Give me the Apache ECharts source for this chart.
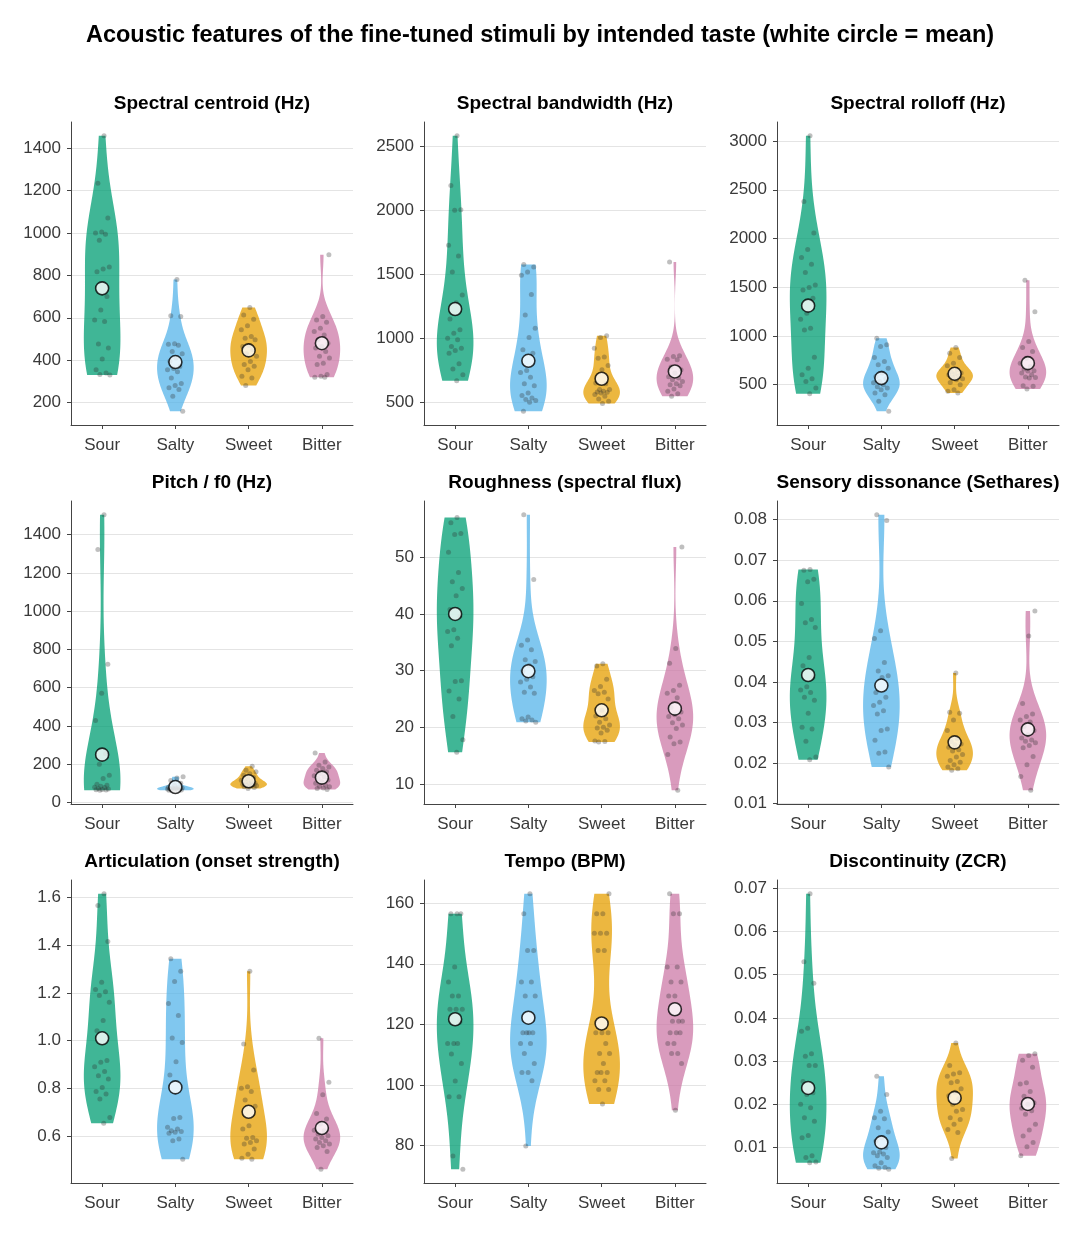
<!DOCTYPE html>
<html>
<head>
<meta charset="utf-8">
<title>Acoustic features by intended taste</title>
<script src="https://cdn.jsdelivr.net/npm/echarts@6/dist/echarts.min.js"></script>
<style>
  html, body { margin: 0; padding: 0; background: #fff; }
  #chart { width: 1080px; height: 1234px; }
</style>
</head>
<body>
<div id="chart"></div>
<script>
// tastes, in plotting order
const tastes = ['Sour', 'Salty', 'Sweet', 'Bitter'];
const tasteColors = ['rgba(0,158,115,0.75)', 'rgba(86,180,233,0.75)', 'rgba(230,159,0,0.75)', 'rgba(204,121,167,0.75)'];

// per-stimulus values, one list per taste: [Sour, Salty, Sweet, Bitter]
const centroid = [
  [1459, 1235, 1071, 1005, 1000, 994, 966, 840, 830, 817, 700, 637, 590, 582, 476, 457, 405, 355, 339, 332, 330],
  [781, 610, 606, 478, 475, 470, 441, 430, 410, 395, 370, 361, 355, 345, 316, 290, 280, 270, 262, 230, 159],
  [648, 613, 593, 562, 543, 512, 504, 496, 469, 465, 449, 430, 418, 394, 379, 371, 355, 324, 316, 280],
  [897, 606, 590, 579, 551, 535, 519, 496, 480, 465, 457, 441, 418, 410, 386, 379, 332, 324, 319, 319]
];
const bandwidth = [
  [2583, 2194, 2004, 2000, 1727, 1644, 1519, 1338, 1278, 1151, 1066, 1040, 1001, 988, 936, 923, 905, 884, 801, 760, 715, 669],
  [1577, 1558, 1519, 1493, 1343, 1182, 1078, 1006, 910, 884, 749, 733, 695, 645, 630, 573, 552, 534, 521, 513, 500, 430],
  [1019, 1006, 923, 853, 845, 788, 754, 650, 645, 600, 599, 586, 580, 578, 573, 560, 547, 526, 508, 490],
  [1597, 863, 858, 837, 832, 775, 754, 728, 700, 690, 676, 663, 645, 637, 630, 604, 586, 567, 547]
];
const rolloff = [
  [3054, 2380, 2057, 1886, 1804, 1736, 1651, 1522, 1498, 1471, 1386, 1232, 1171, 1079, 1062, 783, 670, 602, 561, 534, 466, 408],
  [977, 909, 892, 779, 738, 704, 670, 619, 585, 560, 534, 520, 500, 480, 466, 449, 415, 398, 330, 228],
  [881, 824, 779, 721, 694, 653, 630, 619, 610, 602, 590, 575, 560, 551, 524, 500, 449, 432, 415],
  [1573, 1249, 943, 881, 841, 772, 721, 687, 660, 643, 640, 619, 602, 580, 575, 568, 490, 483, 456]
];
const pitch = [
  [1504, 1322, 723, 571, 429, 255, 200, 142, 125, 95, 90, 85, 80, 78, 73, 70, 68, 66, 65, 64],
  [135, 128, 115, 100, 90, 80, 78, 76, 75, 74, 72, 72, 70, 70, 68, 66, 65, 65, 64],
  [189, 168, 160, 150, 142, 130, 125, 116, 110, 108, 100, 99, 95, 92, 90, 88, 85, 82, 78, 73],
  [258, 212, 194, 185, 177, 168, 160, 151, 140, 134, 125, 118, 108, 100, 90, 85, 82, 75, 73, 68]
];
const roughness = [
  [57.0, 56.1, 54.2, 54.0, 50.9, 47.3, 45.7, 44.5, 43.2, 40.8, 39.6, 37.2, 36.9, 35.7, 34.4, 28.2, 28.1, 26.4, 25.0, 21.9, 17.8, 15.6],
  [57.5, 46.1, 35.4, 34.5, 33.7, 31.9, 31.6, 30.9, 30.0, 28.9, 28.5, 28.0, 27.1, 26.2, 26.0, 21.8, 21.5, 21.3, 21.1, 20.9],
  [31.2, 30.8, 28.5, 27.2, 26.5, 26.2, 25.9, 25.0, 23.0, 22.0, 21.5, 20.9, 20.4, 20.0, 19.9, 19.5, 19.0, 17.6, 17.5, 17.4],
  [51.8, 33.9, 31.3, 27.4, 26.5, 26.0, 25.2, 23.5, 22.7, 22.2, 21.9, 21.5, 20.8, 20.4, 19.8, 18.3, 17.4, 17.1, 15.2, 8.9]
];
const dissonance = [
  [0.0677, 0.0675, 0.0653, 0.0647, 0.0593, 0.0554, 0.0546, 0.0534, 0.0460, 0.0440, 0.0411, 0.0388, 0.0380, 0.0374, 0.0362, 0.0355, 0.0323, 0.0288, 0.0284, 0.0254, 0.0215, 0.0208],
  [0.0812, 0.0798, 0.0526, 0.0507, 0.0448, 0.0427, 0.0415, 0.0411, 0.0374, 0.0362, 0.0350, 0.0342, 0.0329, 0.0321, 0.0284, 0.0280, 0.0256, 0.0227, 0.0224, 0.0190],
  [0.0422, 0.0325, 0.0323, 0.0306, 0.0280, 0.0260, 0.0253, 0.0247, 0.0245, 0.0239, 0.0233, 0.0230, 0.0221, 0.0215, 0.0206, 0.0202, 0.0196, 0.0190, 0.0186, 0.0182],
  [0.0575, 0.0513, 0.0347, 0.0321, 0.0315, 0.0306, 0.0301, 0.0290, 0.0280, 0.0270, 0.0262, 0.0257, 0.0254, 0.0250, 0.0243, 0.0238, 0.0216, 0.0196, 0.0167, 0.0133]
];
const articulation = [
  [1.614, 1.565, 1.415, 1.244, 1.214, 1.205, 1.189, 1.161, 1.084, 1.042, 0.917, 0.910, 0.891, 0.871, 0.854, 0.840, 0.805, 0.788, 0.777, 0.756, 0.679, 0.655],
  [1.342, 1.290, 1.247, 1.156, 1.105, 1.011, 0.993, 0.912, 0.857, 0.679, 0.675, 0.638, 0.631, 0.624, 0.621, 0.617, 0.613, 0.589, 0.582, 0.505],
  [1.290, 0.986, 0.878, 0.808, 0.801, 0.788, 0.752, 0.726, 0.645, 0.631, 0.596, 0.592, 0.582, 0.575, 0.568, 0.547, 0.526, 0.509, 0.505],
  [1.010, 0.826, 0.774, 0.696, 0.673, 0.652, 0.626, 0.624, 0.610, 0.603, 0.596, 0.589, 0.582, 0.575, 0.568, 0.561, 0.554, 0.537, 0.463]
];
const tempo = [
  [156.5, 156.5, 156.5, 138.9, 134.0, 129.4, 129.4, 125.0, 125.0, 125.0, 120.8, 113.7, 113.7, 113.7, 110.2, 107.1, 101.3, 96.1, 96.1, 76.6, 72.2],
  [163.1, 156.5, 144.4, 144.4, 134.0, 134.0, 129.4, 129.4, 117.2, 117.2, 117.2, 117.2, 113.7, 113.7, 110.4, 107.1, 104.1, 104.1, 101.4, 79.9],
  [163.1, 156.5, 156.5, 150.1, 150.1, 150.1, 144.4, 144.4, 117.2, 117.2, 117.2, 113.7, 110.4, 110.4, 107.1, 104.1, 104.1, 104.1, 101.4, 101.4, 98.5, 98.5, 93.7],
  [163.1, 156.5, 156.5, 138.9, 138.9, 134.0, 134.0, 129.4, 129.4, 121.0, 121.0, 121.0, 117.2, 117.2, 117.2, 113.7, 113.7, 110.4, 110.4, 107.1, 91.7]
];
const zcr = [
  [0.0687, 0.0530, 0.0480, 0.0376, 0.0369, 0.0317, 0.0311, 0.0290, 0.0290, 0.0253, 0.0227, 0.0223, 0.0200, 0.0192, 0.0169, 0.0161, 0.0128, 0.0123, 0.0081, 0.0077, 0.0067, 0.0065],
  [0.0265, 0.0223, 0.0184, 0.0169, 0.0167, 0.0146, 0.0136, 0.0123, 0.0115, 0.0100, 0.0090, 0.0088, 0.0085, 0.0081, 0.0077, 0.0065, 0.0058, 0.0054, 0.0052, 0.0050],
  [0.0342, 0.0290, 0.0273, 0.0270, 0.0265, 0.0253, 0.0250, 0.0236, 0.0228, 0.0220, 0.0213, 0.0200, 0.0188, 0.0184, 0.0169, 0.0165, 0.0154, 0.0142, 0.0135, 0.0075],
  [0.0317, 0.0313, 0.0302, 0.0286, 0.0250, 0.0247, 0.0230, 0.0219, 0.0204, 0.0200, 0.0191, 0.0185, 0.0177, 0.0154, 0.0141, 0.0127, 0.0112, 0.0102, 0.0081]
];

// group means (white circles)
const centroidMean = [739, 391, 446, 480];
const bandwidthMean = [1229, 824, 684, 741];
const rolloffMean = [1311, 568, 612, 721];
const pitchMean = [250, 81, 111, 130];
const roughnessMean = [40.0, 29.9, 23.0, 23.3];
const dissonanceMean = [0.0417, 0.0391, 0.0251, 0.0283];
const articulationMean = [1.010, 0.805, 0.703, 0.635];
const tempoMean = [121.7, 122.2, 120.3, 125.0];
const zcrMean = [0.0238, 0.0112, 0.0215, 0.0201];

// y tick labels per panel
const centroidTicks = ['200', '400', '600', '800', '1000', '1200', '1400'];
const bandwidthTicks = ['500', '1000', '1500', '2000', '2500'];
const rolloffTicks = ['500', '1000', '1500', '2000', '2500', '3000'];
const pitchTicks = ['0', '200', '400', '600', '800', '1000', '1200', '1400'];
const roughnessTicks = ['10', '20', '30', '40', '50'];
const dissonanceTicks = ['0.01', '0.02', '0.03', '0.04', '0.05', '0.06', '0.07', '0.08'];
const articulationTicks = ['0.6', '0.8', '1.0', '1.2', '1.4', '1.6'];
const tempoTicks = ['80', '100', '120', '140', '160'];
const zcrTicks = ['0.01', '0.02', '0.03', '0.04', '0.05', '0.06', '0.07'];

const panelTitles = [
  'Spectral centroid (Hz)', 'Spectral bandwidth (Hz)', 'Spectral rolloff (Hz)',
  'Pitch / f0 (Hz)', 'Roughness (spectral flux)', 'Sensory dissonance (Sethares)',
  'Articulation (onset strength)', 'Tempo (BPM)', 'Discontinuity (ZCR)'
];
const panelData = [centroid, bandwidth, rolloff, pitch, roughness, dissonance, articulation, tempo, zcr];
const panelMeans = [centroidMean, bandwidthMean, rolloffMean, pitchMean, roughnessMean, dissonanceMean, articulationMean, tempoMean, zcrMean];
const panelTicks = [centroidTicks, bandwidthTicks, rolloffTicks, pitchTicks, roughnessTicks, dissonanceTicks, articulationTicks, tempoTicks, zcrTicks];

const FONT = '"Liberation Sans", Arial, Helvetica, sans-serif';
const colLeft = [71, 424, 777];
const rowTop = [122, 501, 880];
const gridW = 282, gridH = 303;
const violinWidth = 0.5;

// gaussian kde, scott bandwidth, evaluated between min and max (like matplotlib violinplot)
function violinOutline(vals) {
  const n = vals.length;
  const m = vals.reduce((a, b) => a + b, 0) / n;
  const sd = Math.sqrt(vals.reduce((a, b) => a + (b - m) * (b - m), 0) / (n - 1));
  const bw = sd * Math.pow(n, -0.2);
  const lo = Math.min(...vals), hi = Math.max(...vals);
  const out = [];
  let maxD = 0;
  for (let j = 0; j < 100; j++) {
    const y = lo + (hi - lo) * j / 99;
    let d = 0;
    vals.forEach(v => { const z = (y - v) / bw; d += Math.exp(-0.5 * z * z); });
    out.push([y, d]);
    if (d > maxD) maxD = d;
  }
  return out.map(p => [p[0], p[1] / maxD * violinWidth / 2]);
}

function fmtTick(ticks) {
  return function (v) {
    let best = ticks[0], bd = Infinity;
    ticks.forEach(t => { const d = Math.abs(Number(t) - v); if (d < bd) { bd = d; best = t; } });
    return best;
  };
}

const grids = [], xAxes = [], yAxes = [], series = [], titles = [];

titles.push({
  text: 'Acoustic features of the fine-tuned stimuli by intended taste (white circle = mean)',
  left: 540, top: 24, textAlign: 'center', padding: 0,
  textStyle: { fontFamily: FONT, fontSize: 23.5, fontWeight: 'bold', color: '#000' }
});

panelData.forEach((groups, p) => {
  const col = p % 3, row = Math.floor(p / 3);
  const all = [].concat(...groups);
  const lo = Math.min(...all), hi = Math.max(...all);
  const pad = (hi - lo) * 0.05;
  const tickNums = panelTicks[p].map(Number);

  grids.push({ left: colLeft[col], top: rowTop[row], width: gridW, height: gridH });
  titles.push({
    text: panelTitles[p],
    left: colLeft[col] + gridW / 2, top: rowTop[row] - 28, textAlign: 'center', padding: 0,
    textStyle: { fontFamily: FONT, fontSize: 19, fontWeight: 'bold', color: '#000' }
  });

  xAxes.push({
    gridIndex: p, type: 'value', min: -0.425, max: 3.425,
    axisLine: { show: true, onZero: false, lineStyle: { color: '#444', width: 1 } },
    axisTick: { show: true, length: 4, lineStyle: { color: '#444' }, customValues: [0, 1, 2, 3] },
    axisLabel: {
      customValues: [0, 1, 2, 3], formatter: v => tastes[Math.round(v)],
      fontFamily: FONT, fontSize: 17, color: '#3a3a3a', margin: 12
    },
    splitLine: { show: false }
  });
  yAxes.push({
    gridIndex: p, type: 'value', min: lo - pad, max: hi + pad,
    axisLine: { show: true, onZero: false, lineStyle: { color: '#444', width: 1 } },
    axisTick: { show: true, length: 4, lineStyle: { color: '#444' }, customValues: tickNums },
    axisLabel: {
      customValues: tickNums, formatter: fmtTick(panelTicks[p]),
      fontFamily: FONT, fontSize: 17, color: '#3a3a3a', margin: 10
    },
    splitLine: { show: true, lineStyle: { color: '#e4e4e4', width: 1 } }
  });

  const outlines = groups.map(violinOutline);
  series.push({
    type: 'custom', xAxisIndex: p, yAxisIndex: p, z: 1, silent: true,
    data: groups.map((g, i) => [i, Math.min(...g), Math.max(...g)]),
    encode: { x: 0, y: [1, 2] },
    renderItem: function (params, api) {
      const i = params.dataIndex;
      const ol = outlines[i];
      const left = ol.map(q => api.coord([i - q[1], q[0]]));
      const right = ol.slice().reverse().map(q => api.coord([i + q[1], q[0]]));
      return {
        type: 'polygon',
        shape: { points: left.concat(right) },
        style: { fill: tasteColors[i], stroke: null }
      };
    }
  });

  // jittered stimuli (fixed golden-ratio offsets)
  const pts = [];
  let k = 0;
  groups.forEach((g, i) => {
    g.forEach(v => {
      k++;
      const jit = ((k * 0.6180339887) % 1 - 0.5) * 0.22;
      pts.push([i + jit, v]);
    });
  });
  series.push({
    type: 'scatter', xAxisIndex: p, yAxisIndex: p, z: 3, silent: true,
    symbolSize: 5, data: pts,
    itemStyle: { color: 'rgba(45,45,45,0.38)' }
  });

  series.push({
    type: 'scatter', xAxisIndex: p, yAxisIndex: p, z: 5, silent: true,
    symbolSize: 13, data: panelMeans[p].map((m, i) => [i, m]),
    itemStyle: { color: '#fff', borderColor: '#000', borderWidth: 1.6 }
  });
});

const chart = echarts.init(document.getElementById('chart'), null, { renderer: 'canvas' });
chart.setOption({
  backgroundColor: '#fff',
  animation: false,
  textStyle: { fontFamily: FONT },
  title: titles,
  grid: grids,
  xAxis: xAxes,
  yAxis: yAxes,
  series: series
});
</script>
</body>
</html>
